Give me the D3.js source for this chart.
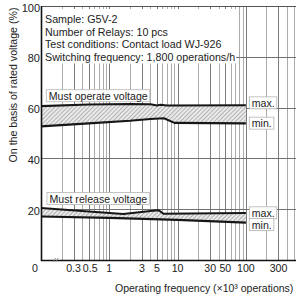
<!DOCTYPE html>
<html>
<head>
<meta charset="utf-8">
<script src="https://cdn.jsdelivr.net/npm/d3@7"></script>
<style>
body { margin: 0; background: #fff; }
svg { display: block; font-family: "Liberation Sans", Arial, sans-serif; }
</style>
</head>
<body>
<div id="mainWrapper"><svg width="296" height="300"></svg></div>
<script>

// 目盛り
var xTickValues = [0.3, 0.5, 1, 3, 5, 10, 30, 50, 100, 300];
var yTickValues = [20, 40, 60, 80, 100];

// 注記
var infoLines = [
	"Sample: G5V-2",
	"Number of Relays: 10 pcs",
	"Test conditions: Contact load WJ-926",
	"Switching frequency: 1,800 operations/h"
];

// 動作電圧 (operate)
var operateMaxFreq = [0.1, 0.5, 2, 4, 5, 5.6, 7, 100];
var operateMaxVal  = [60.6, 61.2, 61.4, 61.3, 60.8, 61.1, 60.8, 60.9];
var operateMinFreq = [0.1, 0.5, 2, 4, 6.3, 9, 100];
var operateMinVal  = [52.6, 53.8, 54.8, 55.5, 55.8, 54.0, 53.8];

// 復帰電圧 (release)
var releaseMaxFreq = [0.1, 1.6, 4, 5.3, 6.2, 100];
var releaseMaxVal  = [20.5, 18.1, 19.3, 19.6, 18.2, 18.5];
var releaseMinFreq = [0.1, 1, 10, 100];
var releaseMinVal  = [17.1, 16.6, 15.8, 14.7];

var W = 296, H = 300;
var plotLeft = 41, plotTop = 6, plotBottom = 260;

var svg = d3.select("#mainWrapper>svg");

var x = d3.scaleLog().domain([0.1, 1000]).range([plotLeft, plotLeft + 4 * 68.3]);
var y = d3.scaleLinear().domain([0, 100]).range([plotBottom, plotTop]);

function zip(f, v) {
	return f.map(function(d, i){ return [d, v[i]]; });
}

var line = d3.line()
	.x(function(d){ return x(d[0]); })
	.y(function(d){ return y(d[1]); });

// ハッチング
var defs = svg.append("defs");
var pat = defs.append("pattern")
	.attr("id", "hatch")
	.attr("patternUnits", "userSpaceOnUse")
	.attr("width", 3).attr("height", 3)
	.attr("patternTransform", "rotate(45)");
pat.append("rect").attr("width", 3).attr("height", 3).attr("fill", "#eaeaea");
pat.append("line").attr("x1", 0).attr("y1", 0).attr("x2", 0).attr("y2", 3)
	.attr("stroke", "#858585").attr("stroke-width", 1.1);

defs.append("clipPath").attr("id", "plotClip")
	.append("rect").attr("x", plotLeft).attr("y", plotTop).attr("width", W - plotLeft).attr("height", plotBottom - plotTop);

// グリッド (縦)
var gridValues = [];
[0.1, 1, 10, 100].forEach(function(dec){
	for(var k=1; k<=9; k++){
		if(dec * k > 0.1) gridValues.push(dec * k);
	}
});

var grid = svg.append("g").attr("clip-path", "url(#plotClip)");

grid.selectAll("line.v")
	.data(gridValues)
	.enter()
	.append("line")
	.attr("class", "v")
	.attr("x1", function(d){ return Math.round(x(d)) + 0.5; })
	.attr("x2", function(d){ return Math.round(x(d)) + 0.5; })
	.attr("y1", plotTop).attr("y2", plotBottom)
	.attr("stroke", function(d){
		return xTickValues.some(function(t){ return Math.abs(t - d) < 1e-9; }) ? "#7c7c7c" : "#ababab";
	})
	.attr("stroke-width", 1);

// グリッド (横)
grid.selectAll("line.h")
	.data(yTickValues.filter(function(d){ return d < 100; }))
	.enter()
	.append("line")
	.attr("class", "h")
	.attr("x1", plotLeft).attr("x2", W)
	.attr("y1", function(d){ return Math.round(y(d)) + 0.5; })
	.attr("y2", function(d){ return Math.round(y(d)) + 0.5; })
	.attr("stroke", "#707070")
	.attr("stroke-width", 1);

// 上枠
svg.append("line")
	.attr("x1", plotLeft).attr("x2", W)
	.attr("y1", y(100) + 0.5).attr("y2", y(100) + 0.5)
	.attr("stroke", "#555").attr("stroke-width", 1);

// 注記 (白背景)
var info = svg.append("g");
var infoBg = info.append("rect").attr("fill", "#fff");
var infoText = info.append("g");
infoText.selectAll("text")
	.data(infoLines)
	.enter()
	.append("text")
	.attr("x", plotLeft + 4)
	.attr("y", function(d, i){ return 23 + i * 12.5; })
	.attr("font-size", "10.7px")
	.attr("fill", "#222")
	.text(function(d){ return d; });
var ib = infoText.node().getBBox();
infoBg.attr("x", plotLeft + 1).attr("y", y(100) + 3)
	.attr("width", ib.x + ib.width + 1 - plotLeft - 1)
	.attr("height", ib.y + ib.height + 1 - y(100) - 3);

// バンド
function drawBand(maxF, maxV, minF, minV){
	var upper = zip(maxF, maxV);
	var lower = zip(minF, minV);
	svg.append("path")
		.attr("d", line(upper.concat(lower.slice().reverse())) + "Z")
		.attr("fill", "url(#hatch)")
		.attr("stroke", "none");
	[upper, lower].forEach(function(pts){
		svg.append("path")
			.attr("d", line(pts))
			.attr("fill", "none")
			.attr("stroke", "#161616")
			.attr("stroke-width", 2.1)
			.attr("stroke-linejoin", "round");
	});
}
drawBand(operateMaxFreq, operateMaxVal, operateMinFreq, operateMinVal);
drawBand(releaseMaxFreq, releaseMaxVal, releaseMinFreq, releaseMinVal);

// ラベル (枠付き)
function boxLabel(text, fx, vy){
	var g = svg.append("g");
	var bg = g.append("rect");
	var t = g.append("text")
		.attr("x", x(fx))
		.attr("y", y(vy))
		.attr("font-size", "10.6px")
		.attr("fill", "#222")
		.text(text);
	var b = t.node().getBBox();
	bg.attr("x", b.x - 2.5).attr("y", b.y)
		.attr("width", b.width + 4.5).attr("height", b.height)
		.attr("fill", "#fff")
		.attr("stroke", "#b5b5b5")
		.attr("stroke-width", 0.8);
}
boxLabel("Must operate voltage", 0.13, 63.1);
boxLabel("Must release voltage", 0.133, 22.6);
boxLabel("max.", 122, 60.3);
boxLabel("min.", 122, 52.3);
boxLabel("max.", 122, 17.0);
boxLabel("min.", 122, 12.4);

// 軸
svg.append("line")
	.attr("x1", plotLeft + 0.5).attr("x2", plotLeft + 0.5)
	.attr("y1", plotTop).attr("y2", plotBottom + 1)
	.attr("stroke", "#111").attr("stroke-width", 1.6);
svg.append("line")
	.attr("x1", plotLeft).attr("x2", W)
	.attr("y1", plotBottom + 0.5).attr("y2", plotBottom + 0.5)
	.attr("stroke", "#111").attr("stroke-width", 1.6);

// 省略記号
var brk = svg.append("g").attr("stroke", "#888").attr("stroke-width", 0.9);
[0, 2.5].forEach(function(o){
	brk.append("line")
		.attr("x1", x(0.16) + o - 1.5).attr("y1", plotBottom + 2)
		.attr("x2", x(0.16) + o + 0.5).attr("y2", plotBottom - 2);
});

// Y目盛り
svg.append("g").selectAll("text")
	.data(yTickValues)
	.enter()
	.append("text")
	.attr("x", plotLeft - 1)
	.attr("y", function(d){ return y(d) + 5.5; })
	.attr("text-anchor", "end")
	.attr("font-size", "11px")
	.attr("fill", "#222")
	.text(function(d){ return d; });

// X目盛り
svg.append("g").selectAll("text")
	.data(xTickValues)
	.enter()
	.append("text")
	.attr("x", function(d){ return x(d) + (d === 0.5 ? 1.5 : 0); })
	.attr("y", 272)
	.attr("text-anchor", "middle")
	.attr("font-size", "10.6px")
	.attr("fill", "#222")
	.text(function(d){ return d; });

svg.append("text")
	.attr("x", x(0.1) - 3)
	.attr("y", 272)
	.attr("text-anchor", "end")
	.attr("font-size", "10.6px")
	.attr("fill", "#222")
	.text("0");

// 軸タイトル
svg.append("text")
	.attr("x", 115)
	.attr("y", 292)
	.attr("font-size", "10.5px")
	.attr("fill", "#222")
	.text("Operating frequency (\u00d710\u00b3 operations)");

svg.append("text")
	.attr("transform", "translate(17,85) rotate(-90)")
	.attr("text-anchor", "middle")
	.attr("font-size", "10.6px")
	.attr("fill", "#222")
	.text("On the basis of rated voltage (%)");

</script>
</body>
</html>
